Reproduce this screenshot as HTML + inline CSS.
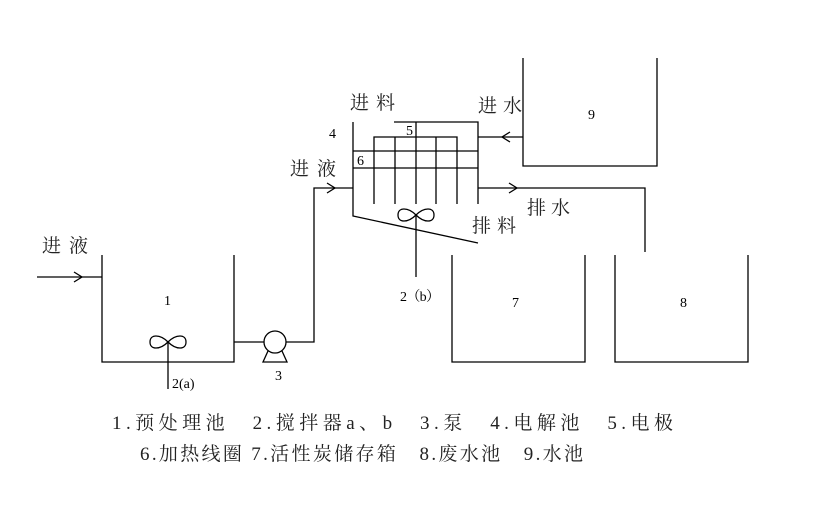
<!DOCTYPE html>
<html><head><meta charset="utf-8"><style>
html,body{margin:0;padding:0;background:#fff;}
svg{display:block;}
text{font-family:"Liberation Serif","Noto Serif CJK SC",serif;fill:#000;}
.cj{font-family:"Liberation Serif","Noto Serif CJK SC",serif;font-size:19px;fill:#222;}
.n{font-size:14px;}
</style></head><body>
<svg width="827" height="505" viewBox="0 0 827 505" xmlns="http://www.w3.org/2000/svg">
<g stroke="#000" stroke-width="1.3" fill="none">
<polyline points="102,255 102,362 234,362 234,255"/>
<line x1="37" y1="277" x2="102" y2="277"/>
<polyline points="74,272 82,277 74,282"/>
<path d="M168,342 C160,334 150,334 150,342 C150,350 160,350 168,342 C176,334 186,334 186,342 C186,350 176,350 168,342 Z"/>
<line x1="168" y1="342" x2="168" y2="389"/>
<line x1="234" y1="342" x2="264" y2="342"/>
<circle cx="275" cy="342" r="11"/>
<polyline points="268,351 263,362 287,362 282,351"/>
<polyline points="286,342 314,342 314,188 353,188"/>
<polyline points="327,183 335,188 327,193"/>
<polyline points="353,122 353,216 478,243"/>
<polyline points="394,122 478,122 478,204"/>
<line x1="416" y1="122" x2="416" y2="204"/>
<polyline points="374,204 374,137 457,137 457,204"/>
<line x1="395" y1="137" x2="395" y2="204"/>
<line x1="436" y1="137" x2="436" y2="204"/>
<line x1="353" y1="151" x2="478" y2="151"/>
<line x1="353" y1="168" x2="478" y2="168"/>
<path d="M416,215 C408,207 398,207 398,215 C398,223 408,223 416,215 C424,207 434,207 434,215 C434,223 424,223 416,215 Z"/>
<line x1="416" y1="215" x2="416" y2="277"/>
<line x1="478" y1="137" x2="523" y2="137"/>
<polyline points="510,132 502,137 510,142"/>
<polyline points="523,58 523,166 657,166 657,58"/>
<polyline points="478,188 645,188 645,252"/>
<polyline points="509,183 517,188 509,193"/>
<polyline points="452,255 452,362 585,362 585,255"/>
<polyline points="615,255 615,362 748,362 748,255"/>
</g>
<text class="cj" x="42" y="252" textLength="46" lengthAdjust="spacing">进液</text>
<text class="cj" x="290" y="175" textLength="46" lengthAdjust="spacing">进液</text>
<text class="cj" x="350" y="109" textLength="45" lengthAdjust="spacing">进料</text>
<text class="cj" x="478" y="112" textLength="44" lengthAdjust="spacing">进水</text>
<text class="cj" x="472" y="232" textLength="44" lengthAdjust="spacing">排料</text>
<text class="cj" x="527" y="214" textLength="43" lengthAdjust="spacing">排水</text>
<text class="n" x="329" y="138">4</text>
<text class="n" x="406" y="135">5</text>
<text class="n" x="357" y="165">6</text>
<text class="n" x="588" y="119">9</text>
<text class="n" x="164" y="305">1</text>
<text class="n" x="512" y="307">7</text>
<text class="n" x="680" y="307">8</text>
<text class="n" x="275" y="380">3</text>
<text class="n" x="172" y="388">2(a)</text>
<text class="n" x="400" y="301" textLength="40">2（b）</text>
<text class="cj" x="112" y="429" textLength="561" lengthAdjust="spacing">1.预处理池　2.搅拌器a、b　3.泵　4.电解池　5.电极</text>
<text class="cj" x="140" y="460" textLength="443" lengthAdjust="spacing">6.加热线圈 7.活性炭储存箱　8.废水池　9.水池</text>
</svg>
</body></html>
